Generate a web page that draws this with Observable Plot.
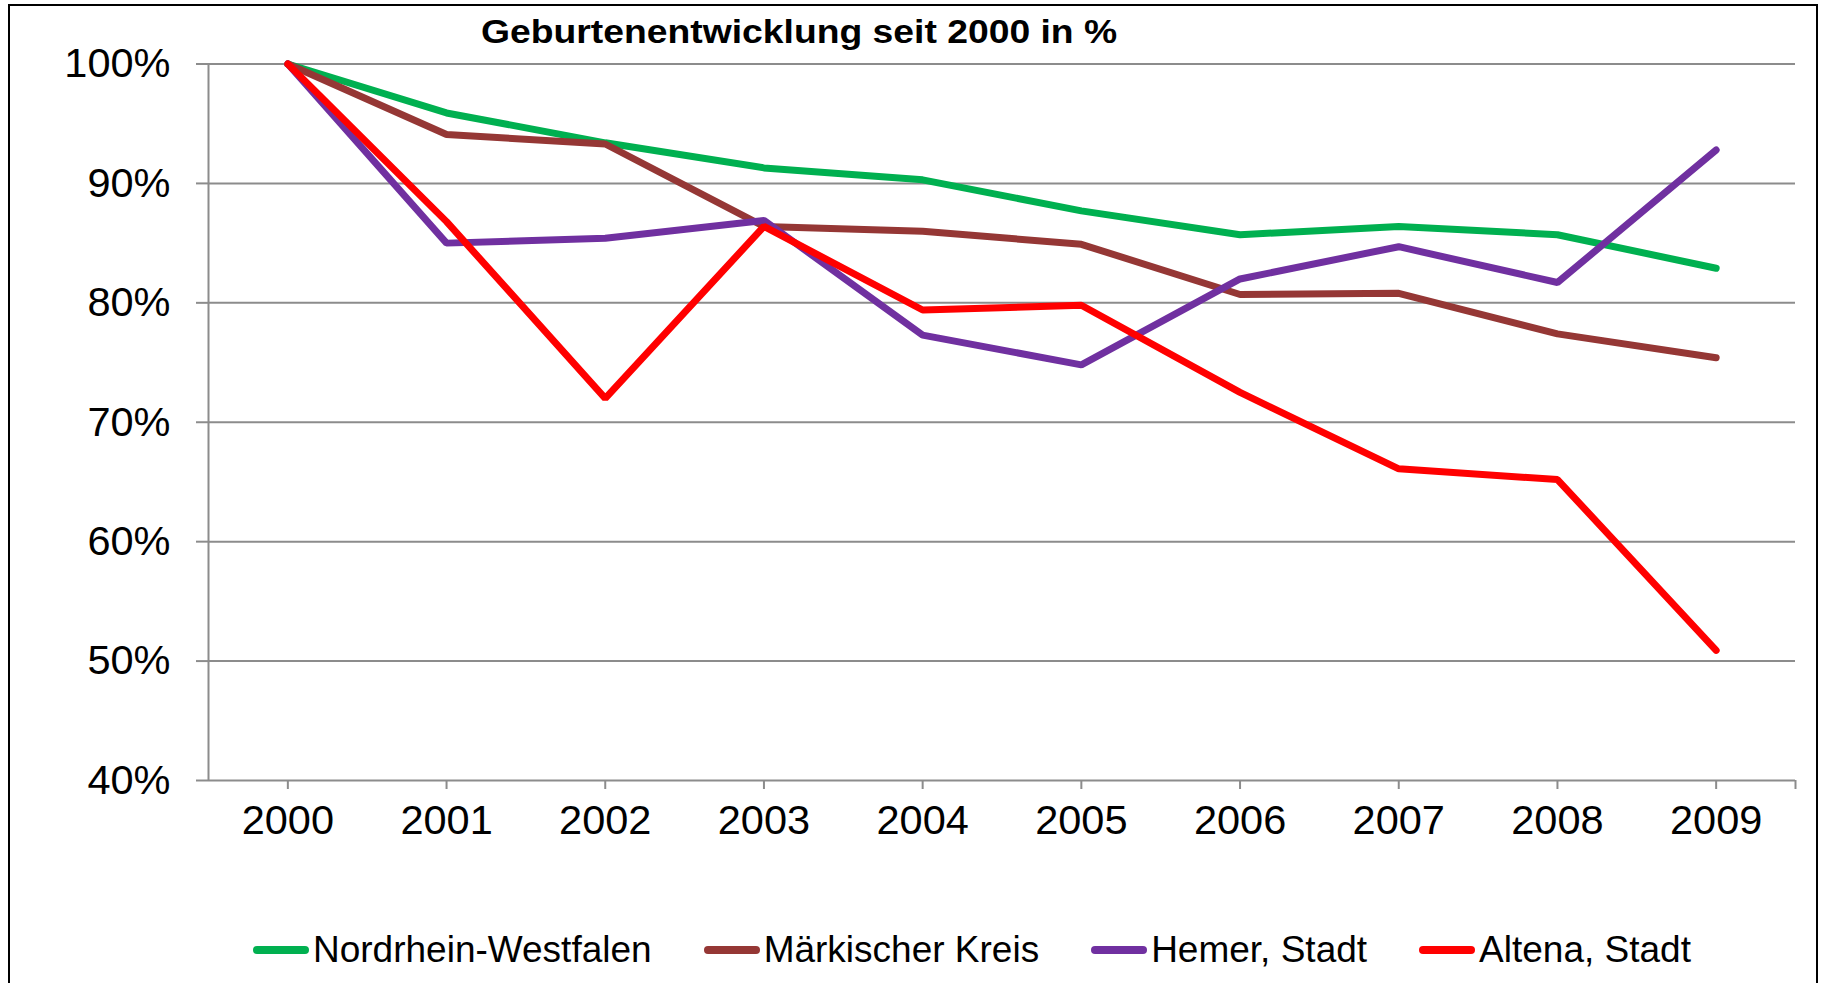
<!DOCTYPE html>
<html>
<head>
<meta charset="utf-8">
<script src="https://cdn.jsdelivr.net/npm/d3@7"></script>
<script src="https://cdn.jsdelivr.net/npm/@observablehq/plot@0.6"></script>
<style>
  html, body { margin: 0; padding: 0; background: #fff; }
  #wrap { position: relative; width: 1829px; height: 983px; overflow: hidden; background: #fff; font-family: "Liberation Sans", Arial, sans-serif; }
  #frame { position: absolute; left: 8px; top: 4px; width: 1810px; height: 1000px; border: 2px solid #000; box-sizing: border-box; }
  #title { position: absolute; left: 481px; top: 15px; font-size: 33px; line-height: 33px; font-weight: bold; color: #000; white-space: nowrap; transform: scaleX(1.13); transform-origin: 0 0; }
  #chart { position: absolute; left: 0; top: 0; }
  #legend { position: absolute; left: 253px; top: 931px; display: flex; align-items: center; font-size: 37px; line-height: 37px; color: #000; white-space: nowrap; }
  .item { display: flex; align-items: center; margin-right: 52px; }
  .sw { width: 56px; height: 8px; border-radius: 4px; margin-right: 4px; }
</style>
</head>
<body>
<div id="wrap">
  <div id="frame"></div>
  <div id="chart"></div>
  <div id="title"></div>
  <div id="legend"></div>
</div>
<script>
const titleText = "Geburtenentwicklung seit 2000 in %";
const years = [2000, 2001, 2002, 2003, 2004, 2005, 2006, 2007, 2008, 2009];
const seriesNames = ["Nordrhein-Westfalen", "Märkischer Kreis", "Hemer, Stadt", "Altena, Stadt"];
const seriesColors = ["#00B050", "#953735", "#7030A0", "#FF0000"];
const nrw    = [100, 95.9, 93.4, 91.3, 90.3, 87.7, 85.7, 86.4, 85.7, 82.9];
const mk     = [100, 94.1, 93.3, 86.4, 86.0, 84.9, 80.7, 80.8, 77.4, 75.4];
const hemer  = [100, 85.0, 85.4, 86.9, 77.3, 74.8, 82.0, 84.7, 81.7, 92.8];
const altena = [100, 86.8, 72.0, 86.4, 79.4, 79.8, 72.5, 66.1, 65.2, 50.9];
const yTicks = [40, 50, 60, 70, 80, 90, 100];

const allSeries = [nrw, mk, hemer, altena];
const rows = [];
allSeries.forEach((vals, i) => {
  vals.forEach((v, j) => rows.push({series: seriesNames[i], year: years[j], value: v}));
});

const xMin = years[0] - 0.5, xMax = years[years.length - 1] + 0.5;
const grid = "#8c8c8c";

const plot = Plot.plot({
  width: 1829,
  height: 870,
  marginLeft: 208,
  marginRight: 34,
  marginTop: 63.5,
  marginBottom: 90,
  style: {fontFamily: "'Liberation Sans', Arial, sans-serif", fontSize: "41px", color: "#000", background: "transparent", overflow: "visible"},
  x: {type: "linear", domain: [xMin, xMax]},
  y: {domain: [yTicks[0], yTicks[yTicks.length - 1]]},
  color: {domain: seriesNames, range: seriesColors},
  marks: [
    Plot.ruleY(yTicks, {stroke: grid, strokeWidth: 2}),
    Plot.ruleX([xMin], {y1: yTicks[0], y2: yTicks[yTicks.length - 1], stroke: grid, strokeWidth: 2}),
    Plot.axisY({ticks: yTicks, tickSize: 12, tickPadding: 26, tickFormat: d => d + "%", stroke: grid, strokeWidth: 2, fill: "#000", fontSize: 41.5, label: null}),
    Plot.axisX({ticks: [...years, xMax], tickSize: 9, tickPadding: 15, tickFormat: d => Number.isInteger(d) ? String(d) : "", stroke: grid, strokeWidth: 2, fill: "#000", fontSize: 41.5, label: null}),
    Plot.line(rows, {x: "year", y: "value", z: "series", stroke: "series", strokeWidth: 7, strokeLinecap: "round", strokeLinejoin: "miter"})
  ]
});
document.getElementById("chart").appendChild(plot);

document.getElementById("title").textContent = titleText;
const legend = document.getElementById("legend");
seriesNames.forEach((name, i) => {
  const item = document.createElement("div");
  item.className = "item";
  const sw = document.createElement("div");
  sw.className = "sw";
  sw.style.background = seriesColors[i];
  const lab = document.createElement("span");
  lab.textContent = name;
  item.appendChild(sw);
  item.appendChild(lab);
  legend.appendChild(item);
});
</script>
</body>
</html>
